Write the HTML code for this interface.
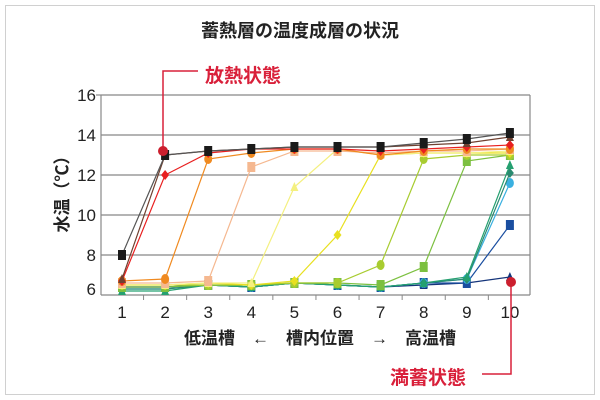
<!DOCTYPE html>
<html><head><meta charset="utf-8"><style>
body{margin:0;background:#fff;width:600px;height:400px;overflow:hidden}
svg{display:block;font-family:"Liberation Sans","Noto Sans CJK JP",sans-serif}
</style></head><body>
<svg id="s" width="600" height="400" xmlns="http://www.w3.org/2000/svg">
<rect x="5.5" y="5.5" width="589" height="389" fill="#fff" stroke="#d0d0d0"/>
<text x="300" y="37" text-anchor="middle" font-size="18" font-weight="bold" fill="#222">蓄熱層の温度成層の状況</text>
<g stroke="#888" stroke-width="1.2">
<line x1="101" y1="95" x2="530" y2="95"/><line x1="101" y1="135" x2="530" y2="135"/>
<line x1="101" y1="175" x2="530" y2="175"/><line x1="101" y1="215" x2="530" y2="215"/>
<line x1="101" y1="255" x2="530" y2="255"/>
<line x1="101" y1="95" x2="101" y2="295"/><line x1="530" y1="95" x2="530" y2="295"/>
<line x1="101" y1="295" x2="530" y2="295"/>
<line x1="96" y1="95" x2="101" y2="95"/>
</g>
<g font-size="17" fill="#222" text-anchor="end">
<text x="96" y="101">16</text><text x="96" y="141">14</text><text x="96" y="181">12</text>
<text x="96" y="221">10</text><text x="96" y="261">8</text><text x="96" y="295">6</text>
</g>
<text transform="translate(68,190) rotate(-90)" text-anchor="middle" font-size="17" font-weight="bold" fill="#222">水温（℃）</text>
<g id="xt" font-size="17" fill="#222" text-anchor="middle"></g>
<text x="320" y="344" text-anchor="middle" font-size="17" font-weight="bold" fill="#222">低温槽　←　槽内位置　→　高温槽</text>
<g id="data"></g>
<polyline points="163,151 163,71 198,71" fill="none" stroke="#d9203a" stroke-width="1.5"/>
<text x="205" y="82" font-size="19" font-weight="bold" fill="#d9203a">放熱状態</text>
<polyline points="511,282 511,374 482,374" fill="none" stroke="#d9203a" stroke-width="1.5"/>
<text x="390" y="384" font-size="19" font-weight="bold" fill="#d9203a">満蓄状態</text>
<circle cx="163" cy="151" r="5" fill="#cc1f2e"/>
<circle cx="511" cy="282" r="5" fill="#cc1f2e"/>
</svg>
<script>
var X=function(i){return 122+i*43.1},Y=function(v){return 295-(v-6)*20};
var xt=document.getElementById('xt'),g=document.getElementById('data'),h='',t='';
for(var i=0;i<10;i++){t+='<text x="'+X(i)+'" y="318">'+(i+1)+'</text>';}
for(var i=0;i<9;i++){var m=(X(i)+X(i+1))/2;h+='<line x1="'+m+'" y1="295" x2="'+m+'" y2="300" stroke="#888"/>';}
xt.innerHTML=t;
var S=[
['#14347a','tri',[6.4,6.4,6.5,6.4,6.6,6.5,6.4,6.5,6.6,6.9]],
['#1a4ea0','sq',[6.4,6.4,6.5,6.4,6.6,6.5,6.4,6.6,6.6,9.5]],
['#3ab0e0','ci',[6.3,6.3,6.5,6.4,6.6,6.5,6.4,6.6,6.8,11.6]],
['#2a8a70','di',[6.3,6.3,6.5,6.4,6.6,6.5,6.4,6.6,6.8,12.1]],
['#25a070','tri',[6.2,6.2,6.5,6.4,6.6,6.5,6.4,6.6,6.9,12.5]],
['#7cc040','sq',[6.4,6.4,6.5,6.5,6.6,6.6,6.5,7.4,12.7,13]],
['#a8cc30','ci',[6.5,6.5,6.5,6.5,6.6,6.6,7.5,12.8,13,13]],
['#e8e020','di',[6.5,6.5,6.6,6.5,6.7,9,13,13.1,13.1,13.1]],
['#f4f080','tri',[6.5,6.5,6.6,6.6,11.4,13.3,13,13.1,13.1,13.2]],
['#f5b890','sq',[6.6,6.6,6.7,12.4,13.2,13.2,13.1,13.2,13.2,13.3]],
['#f08a20','ci',[6.7,6.8,12.8,13.1,13.3,13.3,13,13.2,13.3,13.3]],
['#e82020','di',[6.7,12,13.1,13.3,13.3,13.3,13.2,13.3,13.4,13.5]],
['#704030','tri',[6.8,13,13.2,13.3,13.4,13.4,13.4,13.5,13.6,13.9]],
['#555','sq',[8,13,13.2,13.3,13.4,13.4,13.4,13.6,13.8,14.1]]];
S.forEach(function(s){var p=s[2].map(function(v,i){return X(i)+','+Y(v)}).join(' ');
h+='<polyline points="'+p+'" fill="none" stroke="'+s[0]+'" stroke-width="1.2"/>';
var c=s[0]=='#555'?'#1a1a1a':s[0];
s[2].forEach(function(v,i){var x=X(i),y=Y(v);
if(s[1]=='sq')h+='<rect x="'+(x-4)+'" y="'+(y-5)+'" width="8" height="10" fill="'+c+'"/>';
else if(s[1]=='ci')h+='<ellipse cx="'+x+'" cy="'+y+'" rx="4" ry="5" fill="'+c+'"/>';
else if(s[1]=='di')h+='<polygon points="'+x+','+(y-5)+' '+(x+4)+','+y+' '+x+','+(y+5)+' '+(x-4)+','+y+'" fill="'+c+'"/>';
else h+='<polygon points="'+x+','+(y-5)+' '+(x+4)+','+(y+4)+' '+(x-4)+','+(y+4)+'" fill="'+c+'"/>';});});
g.innerHTML=h;
</script>
</body></html>
